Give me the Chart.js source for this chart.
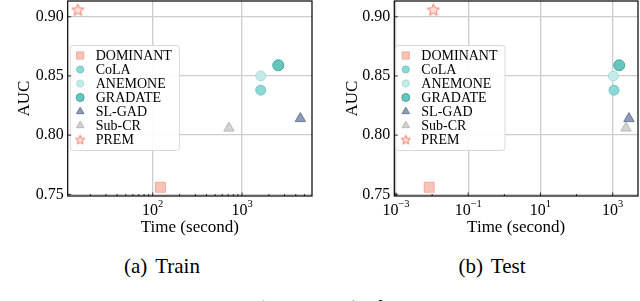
<!DOCTYPE html>
<html>
<head>
<meta charset="utf-8">
<script src="https://cdn.jsdelivr.net/npm/chart.js@4.4.1/dist/chart.umd.min.js"></script>
<style>
  html, body { margin: 0; padding: 0; background: #fff; }
  body { width: 640px; height: 301px; position: relative; overflow: hidden; font-family: "Liberation Serif", "Times New Roman", serif; color: #000; }
  .panel { position: absolute; top: 0; width: 320px; height: 240px; }
  .cap { position: absolute; top: 256px; font-size: 21px; line-height: 21px; word-spacing: 3px; transform: translateX(-50%); white-space: nowrap; }
  .fig { position: absolute; left: 0; top: 298px; font-size: 21px; line-height: 21px; white-space: nowrap; }
</style>
</head>
<body>
<div class="panel" style="left:0"><canvas id="trainChart" width="320" height="240"></canvas></div>
<div class="panel" style="left:320px"><canvas id="testChart" width="320" height="240"></canvas></div>
<div class="cap" style="left:162px">(a) Train</div>
<div class="cap" style="left:492px">(b) Test</div>
<div class="fig">Fig. 3: AUC and running time (in seconds) of the baselines and PREM</div>
<script>
// values
const methods = ["DOMINANT", "CoLA", "ANEMONE", "GRADATE", "SL-GAD", "Sub-CR", "PREM"];
const aucValues = [0.756, 0.838, 0.850, 0.859, 0.814, 0.806, 0.906];
const trainTime = [122, 1620, 1620, 2550, 4500, 715, 14.5];
const testTime = [0.0083, 1090, 1040, 1520, 2820, 2340, 0.0108];
const yTicks = [0.75, 0.80, 0.85, 0.90];
const trainXTicks = [100, 1000];
const testXTicks = [1e-3, 1e-1, 1e1, 1e3];
const testMinorTicks = [1e-2, 1, 1e2];

const SERIF = "'Liberation Serif', 'Times New Roman', serif";
Chart.defaults.font.family = SERIF;
Chart.defaults.color = "#000";

function makeStar(size, fill, edge) {
  const c = document.createElement("canvas");
  c.width = c.height = size;
  const g = c.getContext("2d");
  const cx = size / 2, cy = size / 2 + 0.6, ro = size / 2 - 1.2, ri = ro * 0.45;
  g.beginPath();
  for (let k = 0; k < 10; k++) {
    const r = k % 2 ? ri : ro;
    const a = -Math.PI / 2 + k * Math.PI / 5;
    g.lineTo(cx + r * Math.cos(a), cy + r * Math.sin(a));
  }
  g.closePath();
  g.fillStyle = fill;
  g.fill();
  g.lineWidth = 1;
  g.strokeStyle = edge;
  g.stroke();
  return c;
}

const starImg = makeStar(15, "#fde1db", "#f07a68");
const starSmall = makeStar(12, "#fde1db", "#f07a68");

const markers = [
  { style: "rect", radius: 7, fill: "#f9c4b8", edge: "#f2a898" },
  { style: "circle", radius: 5, fill: "#8fd6d6", edge: "#72c8c8" },
  { style: "circle", radius: 5, fill: "#c6eae8", edge: "#a9dddb" },
  { style: "circle", radius: 5.5, fill: "#66c6bc", edge: "#3fa89e" },
  { style: "triangle", radius: 6, fill: "#8e9bb8", edge: "#6b7a9c" },
  { style: "triangle", radius: 6, fill: "#d2d2d2", edge: "#b8b8b8" },
  { style: starImg, radius: 7, fill: "#fde1db", edge: "#f07a68" }
];

function buildDatasets(times) {
  return methods.map((name, i) => ({
    label: name,
    data: [{ x: times[i], y: aucValues[i] }],
    pointStyle: markers[i].style,
    pointRadius: markers[i].radius,
    pointBackgroundColor: markers[i].fill,
    pointBorderColor: markers[i].edge,
    pointBorderWidth: 1
  }));
}

const decor = {
  id: "decor",
  beforeDatasetsDraw(chart, args, opts) {
    // legend box with entries
    const ctx = chart.ctx;
    const area = chart.chartArea;
    ctx.save();
    ctx.font = "14px " + SERIF;
    const w = Math.max(...chart.data.datasets.map(d => ctx.measureText(d.label).width));
    const bx = area.left + opts.legendDx, by = 45, bw = 26 + w + 7, bh = 105;
    ctx.beginPath();
    ctx.roundRect(bx + 0.5, by + 0.5, bw, bh, 3);
    ctx.fillStyle = "rgba(255,255,255,0.9)";
    ctx.fill();
    ctx.strokeStyle = "#d9d9d9";
    ctx.lineWidth = 1;
    ctx.stroke();
    chart.data.datasets.forEach((ds, i) => {
      const y = by + 10.5 + i * 14;
      const mx = bx + 10.5;
      if (markers[i].style === starImg) {
        ctx.drawImage(starSmall, mx - 6, y - 6);
      } else {
        ctx.fillStyle = markers[i].fill;
        ctx.strokeStyle = markers[i].edge;
        ctx.lineWidth = 1;
        Chart.helpers.drawPoint(ctx, { pointStyle: markers[i].style, radius: markers[i].radius * 0.72, borderWidth: 1, rotation: 0 }, mx, y);
      }
      ctx.fillStyle = "#000";
      ctx.textBaseline = "middle";
      ctx.fillText(ds.label, bx + 26, y + 0.5);
    });
    ctx.restore();
  },
  afterDatasetsDraw(chart, args, opts) {
    const ctx = chart.ctx;
    const { left, right, top, bottom } = chart.chartArea;
    const xs = chart.scales.x, ys = chart.scales.y;
    ctx.save();
    // frame
    ctx.strokeStyle = "#000";
    ctx.lineWidth = 1.2;
    ctx.strokeRect(left, top, right - left, bottom - top);
    // inward ticks
    ctx.lineWidth = 0.8;
    ctx.beginPath();
    opts.majors.forEach(v => {
      const px = xs.getPixelForValue(v);
      ctx.moveTo(px, bottom); ctx.lineTo(px, bottom - 3.5);
    });
    opts.minors.forEach(v => {
      const px = xs.getPixelForValue(v);
      if (px > left + 1 && px < right - 1) { ctx.moveTo(px, bottom); ctx.lineTo(px, bottom - 2); }
    });
    yTicks.forEach(v => {
      const py = ys.getPixelForValue(v);
      ctx.moveTo(left, py); ctx.lineTo(left + 3.5, py);
    });
    ctx.stroke();
    // x tick labels as 10^n
    ctx.fillStyle = "#000";
    ctx.textBaseline = "alphabetic";
    opts.majors.forEach(v => {
      const px = xs.getPixelForValue(v);
      const exp = Math.round(Math.log10(v));
      const expText = exp < 0 ? "\u2212" + (-exp) : String(exp);
      ctx.font = "16px " + SERIF;
      const bw = ctx.measureText("10").width;
      ctx.font = "10.5px " + SERIF;
      const ew = ctx.measureText(expText).width;
      const x0 = px - (bw + ew) / 2;
      ctx.font = "16px " + SERIF;
      ctx.fillText("10", x0, bottom + 19);
      ctx.font = "10.5px " + SERIF;
      ctx.fillText(expText, x0 + bw, bottom + 10.5);
    });
    ctx.restore();
  }
};

function logMinors(min, max) {
  const out = [];
  for (let d = Math.floor(Math.log10(min)); d <= Math.ceil(Math.log10(max)); d++) {
    for (let m = 2; m <= 9; m++) {
      const v = m * Math.pow(10, d);
      if (v > min && v < max) out.push(v);
    }
  }
  return out;
}

function makeChart(id, times, xMin, xMax, xTicks, minors, axisWidth, padRight, yTitlePad, legendDx) {
  return new Chart(document.getElementById(id), {
    type: "scatter",
    data: { datasets: buildDatasets(times) },
    plugins: [decor],
    options: {
      responsive: false,
      animation: false,
      events: [],
      layout: { autoPadding: false, padding: { top: 1, right: padRight, bottom: 0, left: 0 } },
      plugins: {
        legend: { display: false },
        tooltip: { enabled: false },
        decor: { majors: xTicks, minors: minors, legendDx: legendDx }
      },
      scales: {
        x: {
          type: "logarithmic",
          min: xMin,
          max: xMax,
          afterBuildTicks: s => { s.ticks = xTicks.map(v => ({ value: v })); },
          afterFit: s => { s.height = 44; s.paddingLeft = 0; s.paddingRight = 0; },
          ticks: { display: false },
          grid: { color: "#cdcdcd", lineWidth: 1.3, drawTicks: false },
          border: { display: false },
          title: { display: true, text: "Time (second)", font: { size: 17 }, padding: { top: 0, bottom: 2 } }
        },
        y: {
          min: 0.7486,
          max: 0.9133,
          afterBuildTicks: s => { s.ticks = yTicks.map(v => ({ value: v })); },
          afterFit: s => { s.width = axisWidth; s.paddingTop = 0; s.paddingBottom = 0; },
          ticks: { callback: v => v.toFixed(2), font: { size: 16 }, padding: 4 },
          grid: { color: "#cdcdcd", lineWidth: 1.3, drawTicks: false },
          border: { display: false },
          title: { display: true, text: "AUC", font: { size: 17 }, padding: { top: yTitlePad, bottom: 0 } }
        }
      }
    }
  });
}

makeChart("trainChart", trainTime, 11.17, 6080, trainXTicks, logMinors(11.17, 6080), 67.7, 8, 14.8, 2);
makeChart("testChart", testTime, 0.000897, 5020, testXTicks, testMinorTicks, 74.3, 2, 22.3, 1);
</script>
</body>
</html>
